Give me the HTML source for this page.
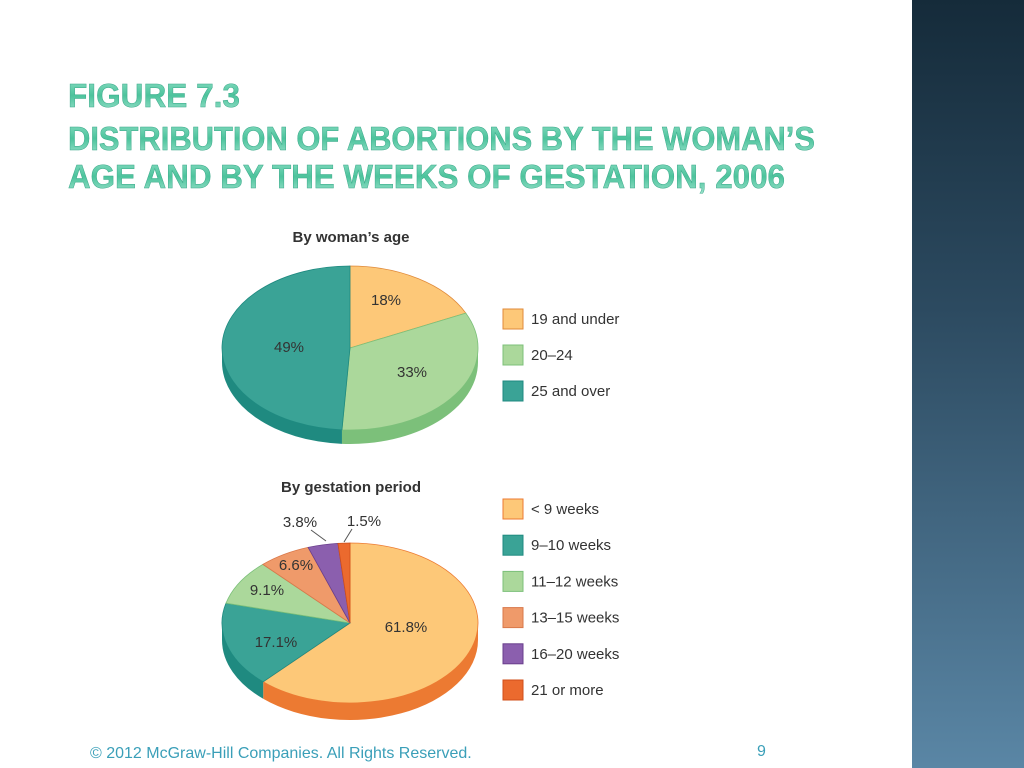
<!DOCTYPE html>
<html><head><meta charset="utf-8">
<style>
html,body{margin:0;padding:0;background:#fff;}
body{width:1024px;height:768px;position:relative;overflow:hidden;font-family:"Liberation Sans",sans-serif;}
#side{position:absolute;left:912px;top:0;width:112px;height:768px;background:linear-gradient(#152b3a,#2c4a60 40%,#5a86a5 100%);}
</style></head><body>
<div id="side"></div>
<svg width="1024" height="768" style="position:absolute;left:0;top:0">
<defs>
<linearGradient id="tg" x1="0" y1="0" x2="0" y2="1"><stop offset="0" stop-color="#8fe0c6"/><stop offset="0.5" stop-color="#4cc39c"/><stop offset="1" stop-color="#9fe4cf"/></linearGradient>
</defs>
<g font-family="Liberation Sans, sans-serif" font-weight="bold" font-size="33" fill="url(#tg)" stroke="#3aa889" stroke-width="0.5">
<text x="68" y="107" textLength="172" lengthAdjust="spacingAndGlyphs">FIGURE 7.3</text>
<text x="68" y="150" textLength="747" lengthAdjust="spacingAndGlyphs">DISTRIBUTION OF ABORTIONS BY THE WOMAN’S</text>
<text x="68" y="188" textLength="717" lengthAdjust="spacingAndGlyphs">AGE AND BY THE WEEKS OF GESTATION, 2006</text>
</g>
<text x="351" y="242" text-anchor="middle" font-size="15" font-weight="bold" fill="#333">By woman’s age</text>
<text x="351" y="492" text-anchor="middle" font-size="15" font-weight="bold" fill="#333">By gestation period</text>
<g id="pies"></g>
<text x="90" y="758" font-size="16" fill="#3a9fb8">© 2012 McGraw-Hill Companies. All Rights Reserved.</text>
<text x="757" y="756" font-size="16" fill="#3a9fb8">9</text>
</svg>
<script>
const ageCategories=["19 and under","20–24","25 and over"];
const ageValues=[18,33,49];
const ageLabels=["18%","33%","49%"];
const ageColors=["#fdc878","#abd89b","#3aa396"];
const ageSide=["#e08a3a","#7cc07a","#1f8a80"];
const gestCategories=["< 9 weeks","9–10 weeks","11–12 weeks","13–15 weeks","16–20 weeks","21 or more"];
const gestValues=[61.8,17.1,9.1,6.6,3.8,1.5];
const gestLabels=["61.8%","17.1%","9.1%","6.6%","3.8%","1.5%"];
const gestColors=["#fdc878","#3aa396","#abd89b","#ef9a6a","#8b5fae","#eb6a2e"];
const gestSide=["#ec7a32","#1f8a80","#7cc07a","#d9784a","#6a3f8c","#d04f1a"];
const NS="http://www.w3.org/2000/svg";
const root=document.getElementById('pies');
function mk(t,a,p){const e=document.createElementNS(NS,t);for(const k in a)e.setAttribute(k,a[k]);(p||root).appendChild(e);return e;}
function pt(cx,cy,rx,ry,a){return [cx+rx*Math.cos(a),cy+ry*Math.sin(a)];}
function drawPie(o){
  const g=mk('g',{});
  
  
  const tot=o.values.reduce((s,v)=>s+v,0);
  let a=-Math.PI/2;const angs=[];
  o.values.forEach(v=>{const b=a+v/tot*2*Math.PI;angs.push([a,b]);a=b;});
  // side walls
  angs.forEach(([a1,a2],i)=>{
    // visible bottom half: angles in [0,PI] mod 2PI
    for(let k=-1;k<=1;k++){
      const lo=Math.max(a1,k*2*Math.PI),hi=Math.min(a2,k*2*Math.PI+Math.PI);
      if(hi<=lo)continue;
      const p1=pt(o.cx,o.cy,o.rx,o.ry,lo),p2=pt(o.cx,o.cy,o.rx,o.ry,hi);
      const d=`M${p1[0]},${p1[1]} A${o.rx},${o.ry} 0 0 1 ${p2[0]},${p2[1]} L${p2[0]},${p2[1]+o.depth} A${o.rx},${o.ry} 0 0 0 ${p1[0]},${p1[1]+o.depth} Z`;
      const s=mk('path',{d:d,fill:o.side[i]},g);
      
      
    }
  });
  angs.forEach(([a1,a2],i)=>{
    const p1=pt(o.cx,o.cy,o.rx,o.ry,a1),p2=pt(o.cx,o.cy,o.rx,o.ry,a2);
    const large=(a2-a1)>Math.PI?1:0;
    const s=mk('path',{d:`M${o.cx},${o.cy} L${p1[0]},${p1[1]} A${o.rx},${o.ry} 0 ${large} 1 ${p2[0]},${p2[1]} Z`,fill:o.colors[i],stroke:o.side[i],'stroke-width':0.8},g);
    
    
  });
  // labels
  o.labelPos.forEach((lp,i)=>{
    const t=mk('text',{x:lp[0],y:lp[1],'font-size':15,fill:'#333','text-anchor':'middle'},g);
    t.textContent=o.labels[i];
    
    
  });
  // legend
  o.categories.forEach((c,i)=>{
    const y=o.legendY+i*o.legendStep;
    const r=mk('rect',{x:503,y:y-10,width:20,height:20,fill:o.colors[i],stroke:o.side[i],'stroke-width':1},g);
    
    
    const t=mk('text',{x:531,y:y+5,'font-size':15,fill:'#333'},g);
    t.textContent=c;
    
    
  });
  return g;
}
drawPie({name:'age-pie-chart',prefix:'age',cx:350,cy:348,rx:128,ry:82,depth:14,values:ageValues,colors:ageColors,side:ageSide,labels:ageLabels,categories:ageCategories,labelPos:[[386,305],[412,377],[289,352]],legendY:319,legendStep:36});
const g2=drawPie({name:'gestation-pie-chart',prefix:'gest',cx:350,cy:623,rx:128,ry:80,depth:17,values:gestValues,colors:gestColors,side:gestSide,labels:gestLabels,categories:gestCategories,labelPos:[[406,632],[276,647],[267,595],[296,570],[300,527],[364,526]],legendY:509,legendStep:36.2});
[[311,530,326,541],[352,529,344,542]].forEach((l,i)=>{
  const e=mk('line',{x1:l[0],y1:l[1],x2:l[2],y2:l[3],stroke:'#555','stroke-width':1},g2);
  
  
});
</script>
</body></html>
